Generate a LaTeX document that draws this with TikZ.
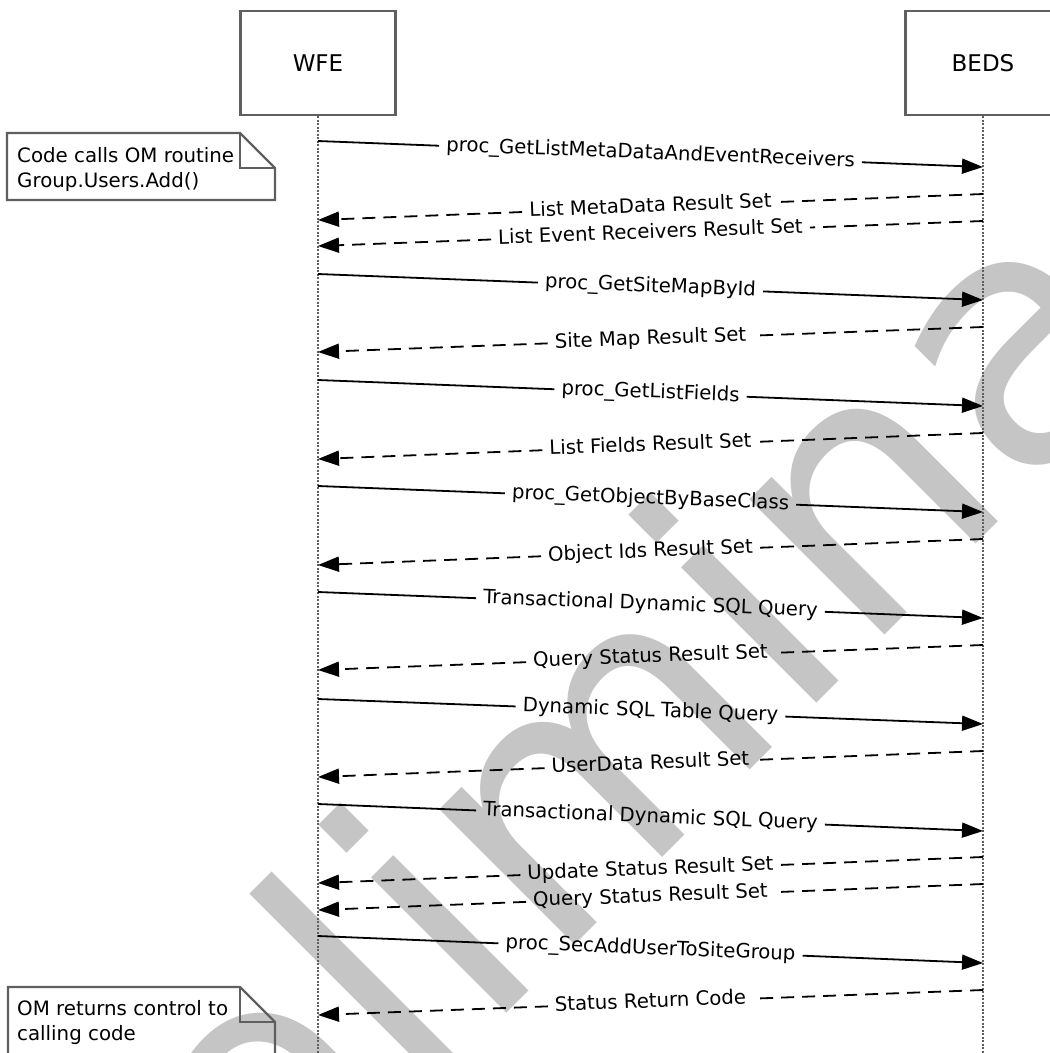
\documentclass[tikz,border=0pt]{standalone}
\usepackage{fontspec}
\setmainfont{DejaVu Sans}
\usetikzlibrary{arrows.meta}
\definecolor{wm}{RGB}{197,197,197}
\definecolor{edgegray}{RGB}{95,95,95}
\tikzset{
  lifebox/.style={draw=edgegray, line width=2.2pt, minimum width=155pt, minimum height=104pt, inner sep=0pt, font=\fontsize{23}{27}\selectfont},
  lifeline/.style={draw=edgegray, line width=2pt, dash pattern=on 2pt off 1.5pt},
  notebox/.style={draw=edgegray, line width=2.2pt, line join=miter},
  notetext/.style={align=left, inner sep=0pt, anchor=north west, font=\fontsize{19.8}{25}\selectfont},
  msglabel/.style={inner xsep=7pt, inner ysep=0pt, text height=14.5pt, text depth=4.5pt, font=\fontsize{19.7}{24}\selectfont},
  msgcall/.style={draw=black, line width=1.8pt},
  msgret/.style={draw=black, line width=1.8pt, dash pattern=on 13pt off 8pt},
  arrowtip/.style={-{Triangle[length=21pt,width=15pt]}},
  wmtext/.style={rotate=45, anchor=base, text=wm, inner sep=0pt, font=\fontsize{350}{350}\selectfont},
}
\newcommand\callmsg[4]{%
  \coordinate (w#1) at (318,#2);
  \coordinate (b#1) at (983,#3);
  \path (w#1) -- (b#1) node[msglabel, midway, sloped] (m#1) {#4};
  \draw[msgcall] (w#1) -- (m#1.west);
  \draw[msgcall, arrowtip] (m#1.east) -- (b#1);
}
\newcommand\retmsg[4]{%
  \coordinate (w#1) at (318,#2);
  \coordinate (b#1) at (983,#3);
  \path (w#1) -- (b#1) node[msglabel, midway, sloped] (m#1) {#4};
  \draw[msgret] (b#1) -- (m#1.east);
  \draw[msgret, arrowtip] (m#1.west) -- (w#1);
}
\begin{document}
\begin{tikzpicture}[x=1pt, y=-1pt]
\path[use as bounding box] (0,0) rectangle (1050,1053);
\clip (0,0) rectangle (1050,1053);
% watermark
\node[wmtext] (wmark) at (720,800) {Preliminary};
% lifeline heads
\node[lifebox] (wfe) at (318,63) {WFE};
\node[lifebox] (beds) at (983,63) {BEDS};
\coordinate (wfeend) at (318,1060);
\coordinate (bedsend) at (983,1060);
\draw[lifeline] (wfe.south) -- (wfeend);
\draw[lifeline] (beds.south) -- (bedsend);
% notes
\draw[notebox] (7,133) -- (240,133) -- (275,168) -- (275,200) -- (7,200) -- cycle;
\draw[notebox] (240,133) -- (240,168) -- (275,168);
\node[notetext] (note1) at (17,147) {Code calls OM routine\\Group.Users.Add()};
\draw[notebox] (8,987) -- (240,987) -- (275,1022) -- (275,1070) -- (8,1070) -- cycle;
\draw[notebox] (240,987) -- (240,1022) -- (275,1022);
\node[notetext] (note2) at (17,1000) {OM returns control to\\calling code};
% messages
\callmsg{1}{141}{167}{proc\_GetListMetaDataAndEventReceivers}
\retmsg{2}{220}{194}{List MetaData Result Set}
\retmsg{3}{246}{221}{List Event Receivers Result Set}
\callmsg{4}{274}{300}{proc\_GetSiteMapById}
\retmsg{5}{352}{327}{Site Map Result Set}
\callmsg{6}{380}{406}{proc\_GetListFields}
\retmsg{7}{459}{433}{List Fields Result Set}
\callmsg{8}{486}{512}{proc\_GetObjectByBaseClass}
\retmsg{9}{565}{539}{Object Ids Result Set}
\callmsg{10}{592}{618}{Transactional Dynamic SQL Query}
\retmsg{11}{670}{645}{Query Status Result Set}
\callmsg{12}{699}{724}{Dynamic SQL Table Query}
\retmsg{13}{777}{751}{UserData Result Set}
\callmsg{14}{804}{831}{Transactional Dynamic SQL Query}
\retmsg{15}{883}{857}{Update Status Result Set}
\retmsg{16}{910}{884}{Query Status Result Set}
\callmsg{17}{936}{963}{proc\_SecAddUserToSiteGroup}
\retmsg{18}{1015}{990}{Status Return Code}
\end{tikzpicture}
\end{document}
